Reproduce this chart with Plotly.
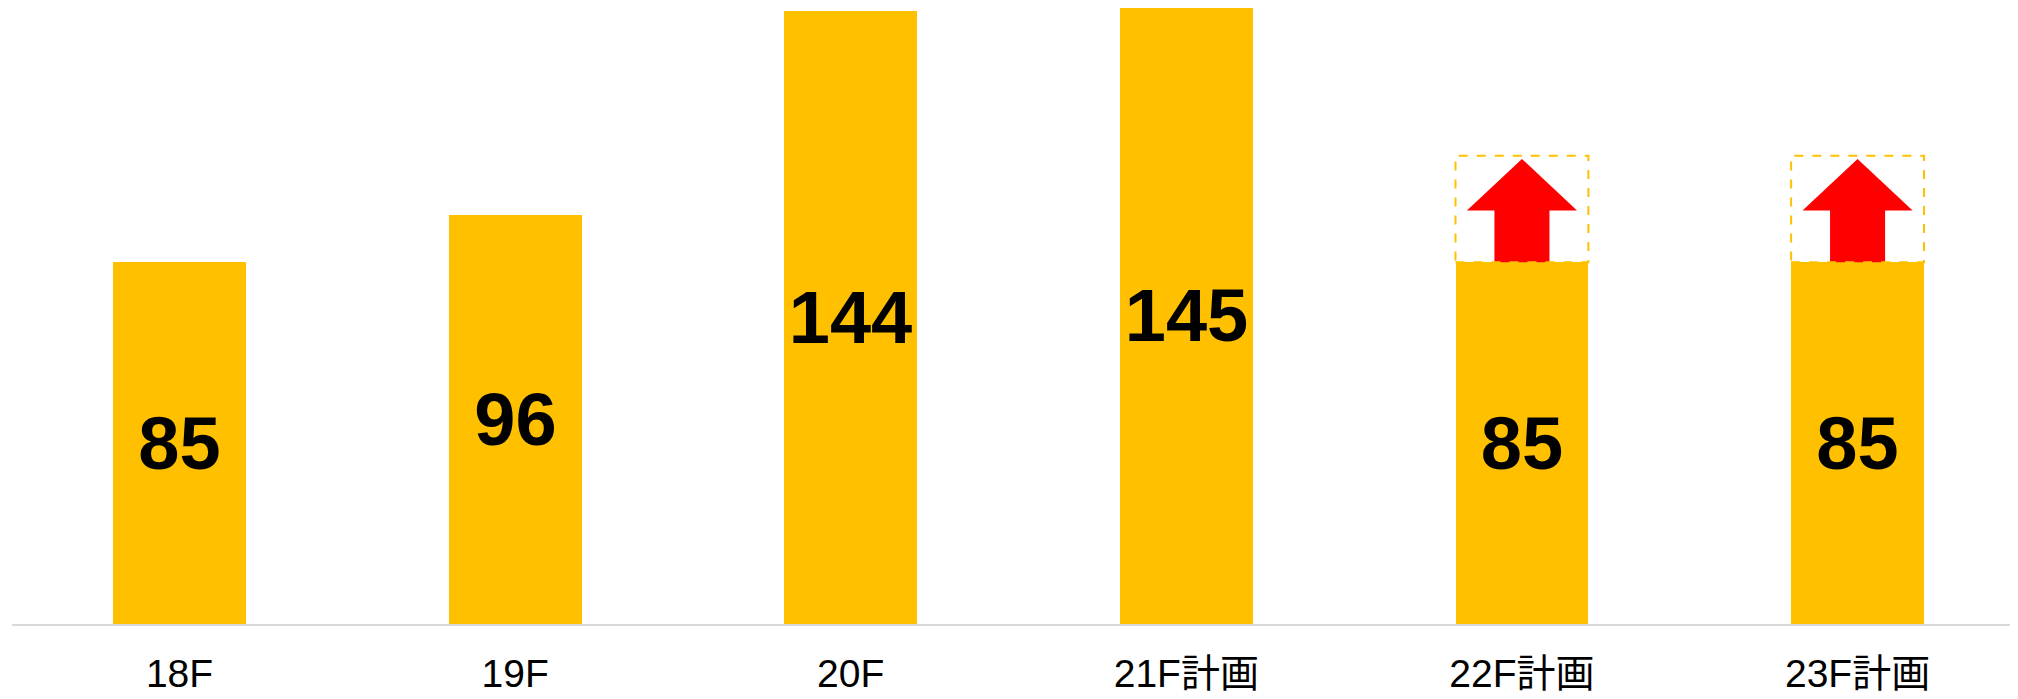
import plotly.graph_objects as go

categories = ["18F", "19F", "20F", "21F計画", "22F計画", "23F計画"]
values = [85, 96, 144, 145, 85, 85]
upside_top = [None, None, None, None, 110, 110]

BAR_COLOR = "#FFC000"
ARROW_COLOR = "#FF0000"
FONT = "Liberation Sans, Arial, Noto Sans CJK JP, sans-serif"
BAR_WIDTH = 0.396

x_idx = list(range(len(categories)))

fig = go.Figure()
fig.add_trace(go.Bar(
    x=x_idx, y=values, width=BAR_WIDTH,
    marker=dict(color=BAR_COLOR, line=dict(width=0)),
    text=[str(v) for v in values],
    textposition="inside", insidetextanchor="middle",
    textfont=dict(family=FONT, size=74, color="black", weight="bold"),
    hoverinfo="skip", showlegend=False,
))

shapes = []
for i, (v, top) in enumerate(zip(values, upside_top)):
    if top is None:
        continue
    hw = BAR_WIDTH / 2
    shapes.append(dict(type="rect", xref="x", yref="y",
                       x0=i - hw, x1=i + hw, y0=v, y1=top,
                       line=dict(color=BAR_COLOR, width=2, dash="dash"),
                       fillcolor="rgba(0,0,0,0)", layer="above"))
    span = top - v
    tip = top - 0.03 * span
    head_base = v + 0.485 * span
    head_hw = 0.164
    shaft_hw = 0.082
    ax = [i - shaft_hw, i - shaft_hw, i - head_hw, i, i + head_hw, i + shaft_hw, i + shaft_hw, i - shaft_hw]
    ay = [v, head_base, head_base, tip, head_base, head_base, v, v]
    fig.add_trace(go.Scatter(x=ax, y=ay, mode="lines", fill="toself",
                             fillcolor=ARROW_COLOR, line=dict(width=0, color=ARROW_COLOR),
                             hoverinfo="skip", showlegend=False))

fig.update_layout(
    width=2010, height=691,
    margin=dict(l=4, r=0, t=0, b=75),
    paper_bgcolor="white", plot_bgcolor="white",
    shapes=shapes,
    uniformtext=dict(minsize=74, mode="show"),
    xaxis=dict(
        tickmode="array", tickvals=x_idx, ticktext=categories,
        range=[-0.499, 5.478],
        showgrid=False, zeroline=False,
        showline=True, linecolor="#D9D9D9", linewidth=2,
        ticks="", tickfont=dict(family=FONT, size=39, color="black"),
        ticklabelstandoff=14,
    ),
    yaxis=dict(range=[0, 144.7], visible=False, showgrid=False, zeroline=False),
    bargap=0,
)

fig.write_html("out.html")
